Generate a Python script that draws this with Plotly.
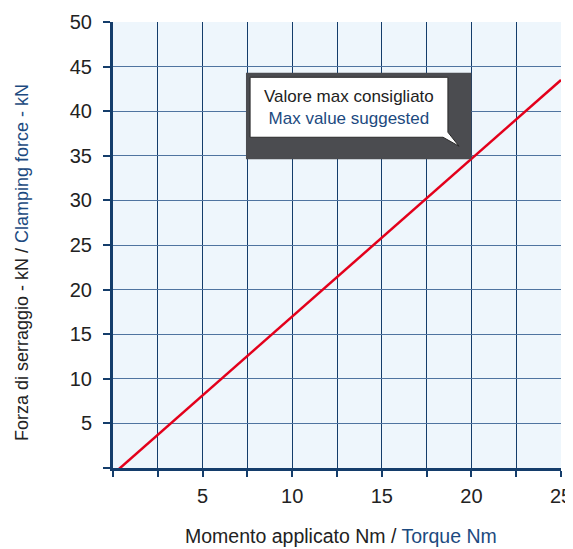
import plotly.graph_objects as go

# Data
torque = [0, 25]          # Nm
force = [-0.7, 43.5]      # kN

x_tickvals = [0, 2.5, 5, 7.5, 10, 12.5, 15, 17.5, 20, 22.5, 25]
x_ticktext = ["", "", "5", "", "10", "", "15", "", "20", "", "25"]
y_tickvals = [0, 5, 10, 15, 20, 25, 30, 35, 40, 45, 50]
y_ticktext = ["", "5", "10", "15", "20", "25", "30", "35", "40", "45", "50"]

NAVY = "#143d6b"
BLUE = "#1c4a80"
TXT = "#222222"
FONT = "Liberation Sans, Arial, sans-serif"

fig = go.Figure()
fig.add_trace(go.Scatter(x=torque, y=force, mode="lines",
                         line=dict(color="#e3001b", width=2.5),
                         hoverinfo="skip", showlegend=False))

# Callout box
fig.add_shape(type="rect", x0=7.42, x1=20.0, y0=34.6, y1=44.3,
              fillcolor="#4b4c50", line=dict(width=0), layer="above")
fig.add_shape(type="path",
              path="M 7.65,43.8 L 18.69,43.8 L 18.69,37.64 L 19.31,36.07 L 18.42,37.08 L 7.65,37.08 Z",
              fillcolor="white", line=dict(color="#2a2a2a", width=1), layer="above")
fig.add_annotation(x=13.17, y=40.45, xref="x", yref="y", showarrow=False,
                   text="Valore max consigliato<br><span style='color:%s'>Max value suggested</span>" % BLUE,
                   font=dict(family=FONT, size=17, color=TXT), align="center")

# Axis titles (positioned as in the reference)
fig.add_annotation(x=0.509, y=-0.1525, xref="paper", yref="paper", showarrow=False,
                   xanchor="center", yanchor="middle",
                   text="Momento applicato Nm / <span style='color:%s'>Torque Nm</span>" % BLUE,
                   font=dict(family=FONT, size=19.5, color=TXT))
fig.add_annotation(x=-0.203, y=0.4596, xref="paper", yref="paper", showarrow=False,
                   xanchor="center", yanchor="middle", textangle=-90,
                   text="Forza di serraggio - kN / <span style='color:%s'>Clamping force - kN</span>" % BLUE,
                   font=dict(family=FONT, size=18, color=TXT))

# page body has an 8px default margin: size/margins compensate for it
fig.update_layout(
    width=565, height=541,
    margin=dict(l=105, r=12, t=14, b=81),
    paper_bgcolor="white",
    plot_bgcolor="#eef6fc",
    font=dict(family=FONT, color=TXT, size=19),
    xaxis=dict(range=[0, 25], tickmode="array", tickvals=x_tickvals, ticktext=x_ticktext,
               automargin=False,
               showgrid=True, gridcolor=NAVY, gridwidth=1,
               showline=True, linecolor=NAVY, linewidth=3,
               ticks="outside", ticklen=6, tickcolor=NAVY, tickwidth=1.5,
               ticklabelstandoff=2,
               zeroline=False, tickfont=dict(size=20)),
    yaxis=dict(range=[0, 50], tickmode="array", tickvals=y_tickvals, ticktext=y_ticktext,
               automargin=False,
               showgrid=True, gridcolor="#4f74a0", gridwidth=1.3,
               showline=True, linecolor=NAVY, linewidth=3,
               ticks="outside", ticklen=7, tickcolor=NAVY, tickwidth=1.5,
               ticklabelstandoff=7,
               zeroline=False, tickfont=dict(size=20)),
)

fig.write_html("out.html")
